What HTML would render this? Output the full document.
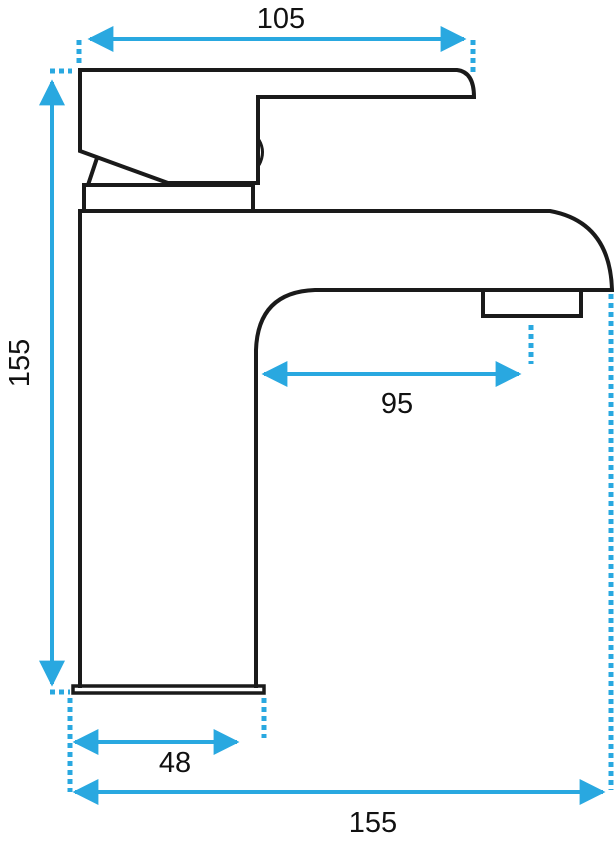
<!DOCTYPE html>
<html><head><meta charset="utf-8"><style>
html,body{margin:0;padding:0;background:#fff;}
svg{display:block;}
text{font-family:"Liberation Sans",sans-serif;font-size:29px;fill:#111;}
</style></head><body>
<svg width="616" height="842" viewBox="0 0 616 842" xmlns="http://www.w3.org/2000/svg">
<defs>
<marker id="a" viewBox="0 0 10 10" refX="9" refY="5" markerWidth="6.5" markerHeight="6.5" orient="auto-start-reverse" markerUnits="strokeWidth"><path d="M0,0 L10,5 L0,10 z" fill="#29a8e0"/></marker>
</defs>
<g fill="none" stroke="#1a1a1a" stroke-width="4" stroke-linejoin="miter">
<path d="M80,70 L457,70 Q474,72 474,97 L258,97 L258,183 L168,183 L80,151 Z"/>
<path d="M97,158 L88,185"/>
<path d="M259,140 Q266,152 259,165" stroke-width="3"/>
<rect x="84" y="185" width="169" height="26"/>
<path d="M80,688 L80,211 L550,211 Q610,222 612,290 L315,290 Q258,292 256,350 L256,688"/>
<rect x="483" y="290" width="98" height="26"/>
<rect x="73" y="686" width="191" height="7" stroke-width="3.5"/>
</g>
<g stroke="#29a8e0" stroke-width="4" fill="none">
<line x1="90" y1="39" x2="464" y2="39" marker-start="url(#a)" marker-end="url(#a)"/>
<line x1="52" y1="82" x2="52" y2="684" marker-start="url(#a)" marker-end="url(#a)"/>
<line x1="264" y1="374" x2="519" y2="374" marker-start="url(#a)" marker-end="url(#a)"/>
<line x1="75" y1="742" x2="237" y2="742" marker-start="url(#a)" marker-end="url(#a)"/>
<line x1="75" y1="792" x2="603" y2="792" marker-start="url(#a)" marker-end="url(#a)"/>
<g stroke-dasharray="5,4" stroke-width="5">
<line x1="79" y1="40" x2="79" y2="66"/>
<line x1="473" y1="40" x2="473" y2="76"/>
<line x1="50" y1="71" x2="72" y2="71"/>
<line x1="50" y1="692" x2="70" y2="692"/>
<line x1="531" y1="325" x2="531" y2="364"/>
<line x1="70" y1="698" x2="70" y2="792"/>
<line x1="264" y1="698" x2="264" y2="738"/>
<line x1="611" y1="294" x2="611" y2="790"/>
</g>
</g>
<text x="281" y="28" text-anchor="middle">105</text>
<text x="397" y="413" text-anchor="middle">95</text>
<text x="175" y="772" text-anchor="middle">48</text>
<text x="373" y="832" text-anchor="middle">155</text>
<text x="0" y="0" text-anchor="middle" transform="translate(29,363) rotate(-90)">155</text>
</svg>
</body></html>
